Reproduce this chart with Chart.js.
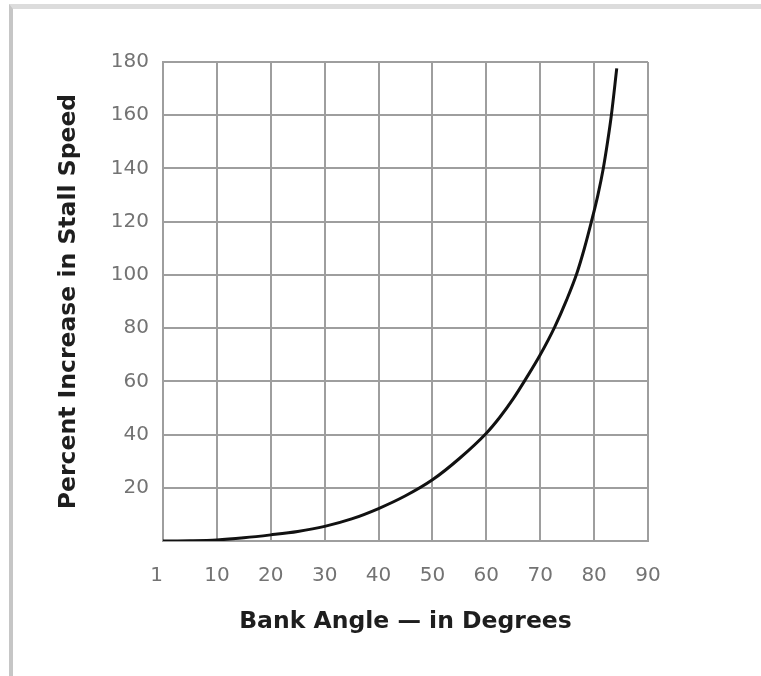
<!DOCTYPE html>
<html>
<head>
<meta charset="utf-8">
<script src="https://cdn.jsdelivr.net/npm/chart.js@4"></script>
<style>
  html, body { margin: 0; padding: 0; background: #fff; }
  #wrap { position: relative; width: 761px; height: 676px; }
  #frame {
    position: absolute; left: 9px; top: 4px; right: 0; bottom: 0;
    border-top: 5px solid #dcdcdc; border-left: 4px solid #c6c6c6;
    pointer-events: none;
  }
</style>
</head>
<body>
<div id="wrap">
  <canvas id="myChart" width="761" height="676"></canvas>
  <div id="frame"></div>
</div>
<script>
// bank angle (degrees) and percent increase in stall speed
var angles = [0, 5, 10, 15, 20, 25, 30, 35, 40, 45, 50, 55, 60, 62.5, 65, 67.5, 70, 72.7, 74.9, 76.8, 78.2, 79.5, 80.7, 81.7, 82.5, 83.2, 84.2];
var percent = [0, 0.1, 0.4, 1.2, 2.3, 3.6, 5.5, 8.3, 12.2, 17, 23, 31, 40.5, 46.5, 53.5, 61.5, 70, 80.5, 90.6, 100.6, 110, 120, 130, 140, 150, 160, 177.6];

var xTicks = [0, 10, 20, 30, 40, 50, 60, 70, 80, 90];
var xLabels = ['1  ', '10', '20', '30', '40', '50', '60', '70', '80', '90'];
var yTicks = [0, 20, 40, 60, 80, 100, 120, 140, 160, 180];

var points = angles.map(function (a, i) { return {x: a, y: percent[i]}; });

var gridColor = '#9e9e9e';
var tickFont = {family: 'DejaVu Sans', size: 20};
var titleFont = {family: 'DejaVu Sans', size: 23.5, weight: 'bold'};

var ctx = document.getElementById('myChart').getContext('2d');
var myChart = new Chart(ctx, {
    type: 'line',
    data: {
        datasets: [{
            label: 'Stall speed increase',
            data: points,
            borderColor: '#111',
            borderWidth: 3,
            pointRadius: 0,
            fill: false,
            cubicInterpolationMode: 'monotone'
        }]
    },
    options: {
        responsive: false,
        animation: false,
        events: [],
        layout: {padding: {top: 62, right: 113, bottom: 0, left: 0}},
        plugins: {
            legend: {display: false},
            tooltip: {enabled: false}
        },
        scales: {
            x: {
                type: 'linear',
                min: 0,
                max: 90,
                afterBuildTicks: function (scale) {
                    scale.ticks = xTicks.map(function (v) { return {value: v}; });
                },
                afterFit: function (scale) { scale.height = 135; },
                grid: {color: gridColor, lineWidth: 2, drawTicks: false},
                border: {color: gridColor, width: 2},
                ticks: {
                    font: tickFont,
                    color: '#737373',
                    padding: 23,
                    maxRotation: 0,
                    callback: function (value) {
                        return xLabels[xTicks.indexOf(value)];
                    }
                },
                title: {
                    display: true,
                    text: 'Bank Angle \u2014 in Degrees',
                    font: titleFont,
                    color: '#1e1e1e',
                    padding: {top: 0, bottom: 40}
                }
            },
            y: {
                min: 0,
                max: 180,
                afterBuildTicks: function (scale) {
                    scale.ticks = yTicks.map(function (v) { return {value: v}; });
                },
                afterFit: function (scale) { scale.width = 163; },
                grid: {color: gridColor, lineWidth: 2, drawTicks: false},
                border: {color: gridColor, width: 2},
                ticks: {
                    font: tickFont,
                    color: '#737373',
                    padding: 14,
                    callback: function (value) {
                        return value === 0 ? '' : value;
                    }
                },
                title: {
                    display: true,
                    text: 'Percent Increase in Stall Speed',
                    font: titleFont,
                    color: '#1e1e1e',
                    padding: {top: 55, bottom: 0}
                }
            }
        }
    }
});
</script>
</body>
</html>
